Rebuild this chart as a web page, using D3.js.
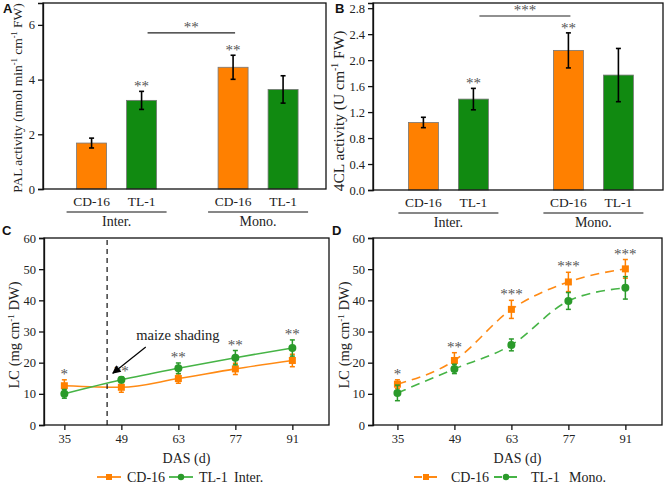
<!DOCTYPE html>
<html><head><meta charset="utf-8">
<script src="https://cdn.jsdelivr.net/npm/d3@7"></script>
<style>body{margin:0;background:#fff}</style>
</head><body><svg id="c" width="665" height="486"></svg>
<script>
// ---------- data ----------
const groups = ["Inter.", "Mono."];
const cultivars = ["CD-16", "TL-1"];
// order: Inter CD-16, Inter TL-1, Mono CD-16, Mono TL-1
const palMean = [1.68, 3.24, 4.45, 3.64];
const palErr  = [0.18, 0.33, 0.44, 0.50];
const palSig  = ["", "**", "**", ""];
const palTicks = [0, 2, 4, 6];
const clMean = [1.04, 1.40, 2.15, 1.77];
const clErr  = [0.08, 0.165, 0.27, 0.41];
const clSig  = ["", "**", "**", ""];
const clTicks = [0.0, 0.4, 0.8, 1.2, 1.6, 2.0, 2.4, 2.8];
const das = [35, 49, 63, 77, 91];
const lcInterCD    = [12.6, 12.1, 14.9, 18.0, 20.7];
const lcInterCDErr = [1.9, 1.6, 1.5, 1.8, 2.0];
const lcInterTL    = [10.0, 14.5, 18.2, 21.6, 24.7];
const lcInterTLErr = [1.4, 0.9, 1.7, 2.3, 2.6];
const lcMonoCD     = [13.1, 20.7, 37.1, 45.9, 50.1];
const lcMonoCDErr  = [1.4, 2.5, 2.9, 3.1, 3.0];
const lcMonoTL     = [10.3, 18.0, 25.7, 39.8, 44.0];
const lcMonoTLErr  = [2.5, 1.5, 1.9, 2.7, 3.6];
const sigInter = ["*", "**", "**", "**", "**"];
const sigMono  = ["*", "**", "***", "***", "***"];
const lcTicks = [0, 10, 20, 30, 40, 50, 60];
const shadingDay = 45.5;

// ---------- styles ----------
const SERIF = "'Liberation Serif', 'Times New Roman', serif";
const ORANGE = "#ff8000", GREEN_BAR = "#118a11", GREEN_LINE = "#46b446", GREEN_MK = "#2a9a2a";
const svg = d3.select("#c");

function frame(g, l, t, r, b) {
  g.append("rect").attr("x", l).attr("y", t).attr("width", r - l).attr("height", b - t)
    .attr("fill", "none").attr("stroke", "#111").attr("stroke-width", 1.3);
}
function yAxis(g, y, l, ticks, fmt) {
  const ax = g.append("g").attr("transform", `translate(${l},0)`)
    .call(d3.axisLeft(y).tickValues(ticks).tickSize(5).tickPadding(3).tickFormat(fmt));
  ax.select(".domain").attr("stroke", "#111").attr("stroke-width", 1.3);
  ax.selectAll(".tick line").attr("stroke", "#111").attr("stroke-width", 1.3);
  ax.selectAll(".tick text").attr("font-size", 12.5).attr("fill", "#222");
}
function yTitle(g, x, y, parts, size) {
  const t = g.append("text").attr("transform", `translate(${x},${y}) rotate(-90)`)
    .attr("text-anchor", "middle").attr("font-size", size).attr("fill", "#222");
  parts.forEach(p => {
    if (p.sup) t.append("tspan").text(p.s).attr("font-size", size * 0.62).attr("dy", -size * 0.38);
    else t.append("tspan").text(p.s).attr("dy", p.after ? size * 0.38 : 0);
  });
}
function panelLabel(x, y, s) {
  svg.append("text").attr("class", "plabel").attr("x", x).attr("y", y).text(s).attr("font-size", 13)
    .attr("font-weight", "bold").attr("fill", "#111");
}
function stars(g, x, y, s) {
  g.append("text").attr("x", x).attr("y", y + 8).attr("text-anchor", "middle")
    .attr("font-size", 15).attr("fill", "#555").text(s);
}

// ---------- bar panels ----------
function barPanel(box, mean, err, sig, ticks, ymax, fmt, title, titleX, titleY, titleSize, bracket, bracketStars) {
  const g = svg.append("g");
  const [l, t, r, b] = box;
  const y = d3.scaleLinear().domain([0, ymax]).range([b, t]);
  const gx = d3.scalePoint().domain(groups).range([l, r]).padding(0.5).align(0.52);
  const cx = d3.scalePoint().domain(cultivars).range([-25, 25]);
  const data = [];
  groups.forEach((gr, gi) => cultivars.forEach((cv, ci) => {
    const i = gi * 2 + ci;
    data.push({ gr, cv, m: mean[i], e: err[i], s: sig[i], x: gx(gr) + cx(cv) });
  }));
  const bw = 30;
  g.selectAll("rect.bar").data(data).enter().append("rect")
    .attr("x", d => d.x - bw / 2).attr("width", bw)
    .attr("y", d => y(d.m)).attr("height", d => y(0) - y(d.m))
    .attr("fill", d => d.cv === "CD-16" ? ORANGE : GREEN_BAR)
    .attr("stroke", "#777").attr("stroke-width", 0.8);
  data.forEach(d => {
    const y1 = y(d.m + d.e), y2 = y(d.m - d.e);
    g.append("line").attr("x1", d.x).attr("x2", d.x).attr("y1", y1).attr("y2", y2).attr("stroke", "#000").attr("stroke-width", 1.6);
    [y1, y2].forEach(yy => g.append("line").attr("x1", d.x - 2.5).attr("x2", d.x + 2.5).attr("y1", yy).attr("y2", yy).attr("stroke", "#000").attr("stroke-width", 1.6));
    if (d.s) stars(g, d.x, y1 - 8, d.s);
  });
  frame(g, l, t, r, b);
  yAxis(g, y, l, ticks, fmt);
  const bx1 = data[1].x + 6, bx2 = data[2].x + 2;
  g.append("line").attr("x1", bx1).attr("x2", bx2).attr("y1", y(bracket)).attr("y2", y(bracket)).attr("stroke", "#222").attr("stroke-width", 1.2);
  stars(g, (bx1 + bx2) / 2, y(bracket) - 9, bracketStars);
  data.forEach(d => g.append("text").attr("x", d.x).attr("y", b + 17).attr("text-anchor", "middle")
    .attr("font-size", 13.5).attr("fill", "#222").text(d.cv));
  groups.forEach(gr => {
    g.append("line").attr("x1", gx(gr) - 50).attr("x2", gx(gr) + 50).attr("y1", b + 23).attr("y2", b + 23).attr("stroke", "#111").attr("stroke-width", 1.2);
    g.append("text").attr("x", gx(gr)).attr("y", b + 37).attr("text-anchor", "middle").attr("font-size", 14).attr("fill", "#222").text(gr);
  });
  yTitle(g, titleX, titleY, title, titleSize);
}

barPanel([43, 3, 326, 189], palMean, palErr, palSig, palTicks, 6.8, d3.format("d"),
  [{s: "PAL activity (nmol min"}, {s: "-1", sup: 1}, {s: " cm", after: 1}, {s: "-1", sup: 1}, {s: " FW)", after: 1}], 22, 98, 13.5, 5.71, "**");
barPanel([373, 3, 663, 190], clMean, clErr, clSig, clTicks, 2.88, d3.format(".1f"),
  [{s: "4CL activity (U cm"}, {s: "-1", sup: 1}, {s: " FW)", after: 1}], 344, 111, 15.5, 2.68, "***");

// ---------- line panels ----------
function linePanel(box, xdom, cd, cdE, tl, tlE, sig, dashed, titleX) {
  const g = svg.append("g");
  const [l, t, r, b] = box;
  const x = d3.scaleLinear().domain(xdom).range([l, r]);
  const y = d3.scaleLinear().domain([0, 60]).range([b, t]);
  frame(g, l, t, r, b);
  yAxis(g, y, l, lcTicks, d3.format("d"));
  const ax = g.append("g").attr("transform", `translate(0,${b})`)
    .call(d3.axisBottom(x).tickValues(das).tickSize(5).tickPadding(4).tickFormat(d3.format("d")));
  ax.select(".domain").remove();
  ax.selectAll(".tick line").attr("stroke", "#111").attr("stroke-width", 1.3);
  ax.selectAll(".tick text").attr("font-size", 12.5).attr("fill", "#222");
  const line = d3.line().x((d, i) => x(das[i])).y(d => y(d)).curve(d3.curveMonotoneX);
  const series = [
    { v: cd, e: cdE, lc: "#ff8a14", mc: ORANGE, shape: "sq" },
    { v: tl, e: tlE, lc: GREEN_LINE, mc: GREEN_MK, shape: "ci" }];
  series.forEach(s => {
    g.append("path").attr("d", line(s.v)).attr("fill", "none").attr("stroke", s.lc).attr("stroke-width", 1.6)
      .attr("stroke-dasharray", dashed ? "9,6" : null);
  });
  series.forEach(s => {
    s.v.forEach((v, i) => {
      const xx = x(das[i]), y1 = y(v + s.e[i]), y2 = y(v - s.e[i]);
      g.append("line").attr("x1", xx).attr("x2", xx).attr("y1", y1).attr("y2", y2).attr("stroke", s.mc).attr("stroke-width", 1.5);
      [y1, y2].forEach(yy => g.append("line").attr("x1", xx - 2.5).attr("x2", xx + 2.5).attr("y1", yy).attr("y2", yy).attr("stroke", s.mc).attr("stroke-width", 1.5));
      if (s.shape === "sq") g.append("rect").attr("x", xx - 3.5).attr("y", y(v) - 3.5).attr("width", 7).attr("height", 7).attr("fill", s.mc);
      else g.append("circle").attr("cx", xx).attr("cy", y(v)).attr("r", 4).attr("fill", s.mc);
    });
  });
  sig.forEach((s, i) => {
    const top = Math.max(cd[i] + cdE[i], tl[i] + tlE[i]);
    stars(g, x(das[i]), y(top) - 9, s);
  });
  yTitle(g, titleX, 335, [{s: "LC (mg cm"}, {s: "-1", sup: 1}, {s: " DW)", after: 1}], 14.5);
  g.append("text").attr("x", (l + r) / 2).attr("y", b + 38).attr("text-anchor", "middle").attr("font-size", 14).attr("fill", "#222").text("DAS (d)");
  return { g, x, y };
}

const C = linePanel([44, 238, 329, 425], [30, 100], lcInterCD, lcInterCDErr, lcInterTL, lcInterTLErr, sigInter, false, 19);
const D = linePanel([373, 238, 662, 425], [29, 100], lcMonoCD, lcMonoCDErr, lcMonoTL, lcMonoTLErr, sigMono, true, 349);

// shading annotation in C
C.g.append("line").attr("x1", C.x(shadingDay)).attr("x2", C.x(shadingDay)).attr("y1", C.y(0)).attr("y2", C.y(60))
  .attr("stroke", "#111").attr("stroke-width", 1.2).attr("stroke-dasharray", "5,4");
svg.append("defs").append("marker").attr("id", "ah").attr("viewBox", "0 0 10 10").attr("refX", 9).attr("refY", 5)
  .attr("markerWidth", 9).attr("markerHeight", 7).attr("orient", "auto")
  .append("path").attr("d", "M0,0 L10,5 L0,10 Z").attr("fill", "#000");
C.g.append("line").attr("x1", C.x(55)).attr("y1", C.y(25)).attr("x2", C.x(46.9)).attr("y2", C.y(16.6))
  .attr("stroke", "#000").attr("stroke-width", 1.2).attr("marker-end", "url(#ah)");
C.g.append("text").attr("x", C.x(62.9)).attr("y", C.y(27.4)).attr("text-anchor", "middle").attr("font-size", 14.5).attr("fill", "#222").text("maize shading");

// panel labels
panelLabel(3, 13, "A"); panelLabel(335, 13, "B"); panelLabel(2, 235, "C"); panelLabel(332, 235, "D");

// ---------- legends ----------
function legendItem(x, y, color, mcolor, shape, dashed, label, len, gap) {
  svg.append("line").attr("x1", x).attr("x2", x + len).attr("y1", y).attr("y2", y).attr("stroke", color)
    .attr("stroke-width", 1.8).attr("stroke-dasharray", dashed ? "8,7" : null);
  const cx = x + len / 2;
  if (shape === "sq") svg.append("rect").attr("x", cx - 3).attr("y", y - 3).attr("width", 6).attr("height", 6).attr("fill", mcolor);
  else svg.append("circle").attr("cx", cx).attr("cy", y).attr("r", 3.2).attr("fill", mcolor);
  svg.append("text").attr("x", x + len + gap).attr("y", y + 5).attr("font-size", 14).attr("fill", "#222").text(label);
}
legendItem(97, 477, "#ff8a14", ORANGE, "sq", false, "CD-16", 24, 6);
legendItem(169, 477, GREEN_LINE, GREEN_MK, "ci", false, "TL-1", 24, 6);
svg.append("text").attr("x", 234).attr("y", 482).attr("font-size", 14).attr("fill", "#222").text("Inter.");
legendItem(414, 477, "#ff8a14", ORANGE, "sq", true, "CD-16", 24, 13);
legendItem(494, 477, GREEN_LINE, GREEN_MK, "ci", true, "TL-1", 24, 13);
svg.append("text").attr("x", 569).attr("y", 482).attr("font-size", 14).attr("fill", "#222").text("Mono.");

// fonts
svg.selectAll("text").style("font-family", SERIF);
svg.selectAll("text.plabel").style("font-family", "'Liberation Sans', Arial, sans-serif");
</script></body></html>
